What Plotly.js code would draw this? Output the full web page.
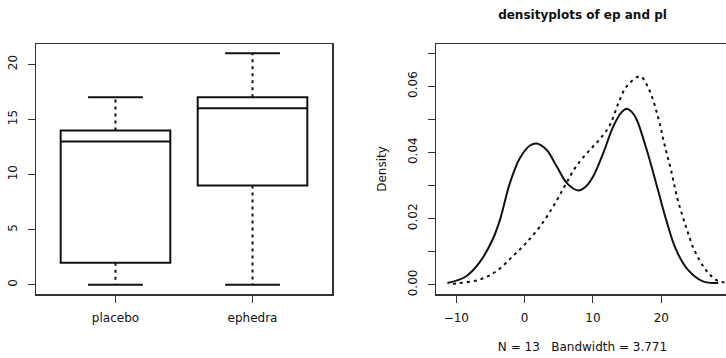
<!DOCTYPE html>
<html>
<head>
<meta charset="utf-8">
<script src="https://cdn.plot.ly/plotly-3.0.1.min.js"></script>
<style>html,body{margin:0;padding:0;overflow:hidden;background:#fff}</style>
</head>
<body>
<div id="chart" style="width:732px;height:358px"></div>
<script>
// ---- Boxplot data ----
const groups = ['placebo', 'ephedra'];
const groupPos = [1, 2];
const boxQ1 = [2, 9];
const boxMedian = [13, 16];
const boxQ3 = [14, 17];
const boxMin = [0, 0];
const boxMax = [17, 21];
const boxYTicks = [0, 5, 10, 15, 20];

// ---- Density curves ----
const plX = [-11.3, -8.6, -6.65, -4.7, -3.6, -2.15, -0.69, 0.78, 1.76, 3.2, 4.69, 6.15, 7.85, 9.0, 10.04, 11.5, 12.97, 14.2, 14.93, 15.7, 16.4, 17.86, 19.5, 20.7, 22.15, 23.9, 26.1, 28.3];
const plY = [0.0005, 0.0025, 0.0066, 0.0136, 0.0197, 0.0308, 0.0383, 0.0421, 0.0427, 0.0408, 0.0358, 0.0308, 0.0285, 0.0298, 0.0328, 0.0398, 0.0479, 0.0522, 0.0532, 0.0522, 0.0499, 0.0408, 0.0287, 0.0197, 0.0106, 0.0045, 0.0010, 0.0005];
const epX = [-10.5, -9.6, -6.65, -4.2, -1.75, 0.2, 2.24, 4.19, 5.9, 7.6, 9.56, 11.0, 12.5, 13.7, 14.93, 16.9, 18.1, 19.5, 20.4, 21.4, 22.4, 23.6, 24.8, 26.5, 28.0, 29.2, 31.0];
const epY = [0.0003, 0.0005, 0.0015, 0.0040, 0.0086, 0.0126, 0.0176, 0.0237, 0.0300, 0.0360, 0.0408, 0.0440, 0.0484, 0.0548, 0.0600, 0.0630, 0.0595, 0.0509, 0.0429, 0.0348, 0.0257, 0.0176, 0.0106, 0.0045, 0.0015, 0.0007, 0.0002];
const densXTicks = [-10, 0, 10, 20];
const densYTicks = [0, 0.01, 0.02, 0.03, 0.04, 0.05, 0.06, 0.07];
const densYTickText = ['0.00', '', '0.02', '', '0.04', '', '0.06', ''];
const densTitle = 'densityplots of ep and pl';
const densXTitle = 'N = 13\u00a0\u00a0\u00a0Bandwidth = 3.771';
const densYTitle = 'Density';

const W = 732, H = 358;
const px = p => p / W;
const py = p => 1 - p / H;
const FONT = 'DejaVu Sans, Arial, sans-serif';
const INK = '#111';
const FRAME = '#333';
const DASH = '3px,4px';

// whiskers and caps built from the box arrays
const capHalf = 0.2;
const wx = [], wy = [], cx = [], cy = [];
groupPos.forEach((p, i) => {
  wx.push(p, p, null, p, p, null);
  wy.push(boxQ3[i], boxMax[i], null, boxQ1[i], boxMin[i], null);
  cx.push(p - capHalf, p + capHalf, null, p - capHalf, p + capHalf, null);
  cy.push(boxMax[i], boxMax[i], null, boxMin[i], boxMin[i], null);
});

const traces = [
  {
    type: 'box', x: groupPos, q1: boxQ1, median: boxMedian, q3: boxQ3,
    lowerfence: boxQ1, upperfence: boxQ3, width: 0.8, whiskerwidth: 0,
    fillcolor: 'rgba(0,0,0,0)', line: {color: INK, width: 2},
    boxpoints: false, hoverinfo: 'skip', showlegend: false, xaxis: 'x', yaxis: 'y'
  },
  {
    type: 'scatter', mode: 'lines', x: wx, y: wy, line: {color: INK, width: 2, dash: DASH},
    hoverinfo: 'skip', showlegend: false, xaxis: 'x', yaxis: 'y'
  },
  {
    type: 'scatter', mode: 'lines', x: cx, y: cy, line: {color: INK, width: 2},
    hoverinfo: 'skip', showlegend: false, xaxis: 'x', yaxis: 'y'
  },
  {
    type: 'scatter', mode: 'lines', name: 'pl', x: plX, y: plY,
    line: {color: INK, width: 2, shape: 'spline', smoothing: 1},
    showlegend: false, xaxis: 'x2', yaxis: 'y2'
  },
  {
    type: 'scatter', mode: 'lines', name: 'ep', x: epX, y: epY,
    line: {color: INK, width: 2, shape: 'spline', smoothing: 1, dash: DASH},
    showlegend: false, xaxis: 'x2', yaxis: 'y2'
  }
];

const axBase = {
  showline: true, mirror: true, linecolor: FRAME, linewidth: 1.5,
  ticks: 'outside', ticklen: 7, tickwidth: 1, tickcolor: FRAME,
  showgrid: false, zeroline: false, fixedrange: true,
  tickfont: {family: FONT, size: 12, color: INK}
};

const layout = {
  width: W, height: H,
  margin: {l: 0, r: 0, t: 0, b: 0},
  paper_bgcolor: '#fff', plot_bgcolor: '#fff',
  showlegend: false,
  font: {family: FONT, size: 12, color: INK},
  title: {
    text: densTitle, x: px(582.5), xanchor: 'center', y: py(15), yanchor: 'middle',
    font: {family: FONT, size: 12, color: INK, weight: 'bold'}
  },
  xaxis: Object.assign({}, axBase, {
    domain: [px(36), px(332)], range: [0.42, 2.58], anchor: 'y',
    tickmode: 'array', tickvals: groupPos, ticktext: groups, ticklabelstandoff: 5
  }),
  yaxis: Object.assign({}, axBase, {
    domain: [py(294), py(44)], range: [-0.84, 21.84], anchor: 'x',
    tickmode: 'array', tickvals: boxYTicks, tickangle: -90, ticklabelstandoff: 6
  }),
  xaxis2: Object.assign({}, axBase, {
    domain: [px(436), px(729)], range: [-12.97, 29.9], anchor: 'y2',
    tickmode: 'array', tickvals: densXTicks, ticklabelstandoff: 5,
    title: {text: densXTitle, standoff: 18, font: {family: FONT, size: 12, color: INK}}
  }),
  yaxis2: Object.assign({}, axBase, {
    domain: [py(294), py(44)], range: [-0.0028, 0.0728], anchor: 'x2',
    tickmode: 'array', tickvals: densYTicks, ticktext: densYTickText, tickangle: -90, ticklabelstandoff: 6,
    title: {text: densYTitle, standoff: 16, font: {family: FONT, size: 12, color: INK}}
  })
};

Plotly.newPlot('chart', traces, layout, {staticPlot: true, displayModeBar: false});
</script>
</body>
</html>
